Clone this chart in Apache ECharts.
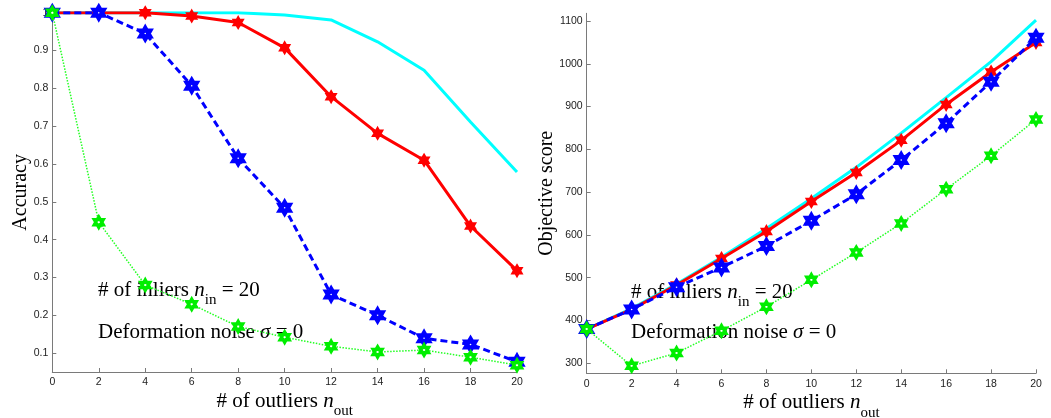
<!DOCTYPE html>
<html>
<head>
<meta charset="utf-8">
<script src="https://cdn.jsdelivr.net/npm/echarts@6/dist/echarts.min.js"></script>
<style>
  html, body { margin: 0; padding: 0; background: #fff; }
  #chart { width: 1051px; height: 418px; }
</style>
</head>
<body>
<div id="chart"></div>
<script>
// Number of outliers (x axis, shared by both panels)
const outliers = [0, 2, 4, 6, 8, 10, 12, 14, 16, 18, 20];

// Accuracy panel
const accCyan  = [1, 1, 1, 1, 1, 0.994, 0.981, 0.923, 0.848, 0.711, 0.579];
const accRed   = [1, 1, 1, 0.991, 0.974, 0.907, 0.778, 0.681, 0.610, 0.436, 0.318];
const accBlue  = [1, 1, 0.945, 0.807, 0.615, 0.484, 0.255, 0.200, 0.139, 0.123, 0.077];
const accGreen = [1, 0.446, 0.280, 0.229, 0.170, 0.142, 0.118, 0.103, 0.108, 0.089, 0.068];

// Objective score panel
const objCyan  = [380, 428, 485, 548, 615, 685, 758, 838, 921, 1005, 1102];
const objRed   = [380, 426, 483, 545, 608, 678, 746, 821, 905, 981, 1050];
const objBlue  = [380, 426, 478, 524, 574, 633, 695, 775, 861, 958, 1061];
const objGreen = [380, 294, 324, 376, 432, 495, 559, 627, 707, 785, 870];

// Tick labels
const accTicks = [0.1, 0.2, 0.3, 0.4, 0.5, 0.6, 0.7, 0.8, 0.9, 1];
const objTicks = [300, 400, 500, 600, 700, 800, 900, 1000, 1100];

// Six-pointed star marker
const HEXAGRAM = 'path://M100 0 L128.87 50 L186.6 50 L157.7 100 L186.6 150 L128.87 150 L100 200 L71.13 150 L13.4 150 L42.3 100 L13.4 50 L71.13 50 Z';

const AXIS_GRAY = '#7a7a7a';
const LABEL_COLOR = '#222';
const SERIF = '"Liberation Serif", "DejaVu Serif", serif';
const SANS = '"Liberation Sans", Arial, sans-serif';

const richText = {
  t: { fontFamily: SERIF, fontSize: 21, color: '#000' },
  i: { fontFamily: SERIF, fontSize: 21, fontStyle: 'italic', color: '#000' },
  s: { fontFamily: SERIF, fontSize: 15, color: '#000', padding: [21, 0, 0, 0] }
};

const pairs = (ys) => outliers.map((x, k) => [x, ys[k]]);

function xAxisFor(gridIndex) {
  return {
    type: 'value', gridIndex, min: 0, max: 20, interval: 2,
    name: '{t|# of outliers }{i|n}{s|out}',
    nameLocation: 'middle', nameGap: 11, nameMoveOverlap: false,
    nameTextStyle: { verticalAlign: 'top', rich: richText },
    axisLine: { show: true, onZero: false, lineStyle: { color: AXIS_GRAY, width: 1 } },
    axisTick: { show: true, inside: true, length: 4, lineStyle: { color: AXIS_GRAY } },
    axisLabel: { color: LABEL_COLOR, fontFamily: SANS, fontSize: 10.5, margin: 5 },
    splitLine: { show: false }
  };
}

function yAxisFor(gridIndex, min, max, ticks, name, nameGap, fmt) {
  return {
    type: 'value', gridIndex, min, max,
    name, nameLocation: 'middle', nameGap, nameMoveOverlap: false,
    nameTextStyle: { fontFamily: SERIF, fontSize: 20, color: '#000' },
    axisLine: { show: true, onZero: false, lineStyle: { color: AXIS_GRAY, width: 1 } },
    axisTick: { show: true, inside: true, length: 4, customValues: ticks, lineStyle: { color: AXIS_GRAY } },
    axisLabel: { color: LABEL_COLOR, fontFamily: SANS, fontSize: 10.5, margin: 4, customValues: ticks, formatter: fmt },
    splitLine: { show: false }
  };
}

function seriesSet(idx, cyan, red, blue, green) {
  return [
    {
      type: 'line', xAxisIndex: idx, yAxisIndex: idx, data: pairs(cyan),
      showSymbol: false, symbol: 'none', silent: true,
      lineStyle: { color: '#00ffff', width: 3 }, z: 2
    },
    {
      type: 'line', xAxisIndex: idx, yAxisIndex: idx, data: pairs(red),
      symbol: HEXAGRAM, symbolSize: 12, symbolKeepAspect: true,
      lineStyle: { color: '#ff0000', width: 3 },
      itemStyle: { color: '#ff0000', borderColor: '#ff0000', borderWidth: 1.5 }, z: 3
    },
    {
      type: 'line', xAxisIndex: idx, yAxisIndex: idx, data: pairs(blue),
      symbol: HEXAGRAM, symbolSize: 11, symbolKeepAspect: true,
      lineStyle: { color: '#0000ff', width: 3, type: [7, 4] },
      itemStyle: { color: '#ffffff', borderColor: '#0000ff', borderWidth: 4.5 }, z: 4
    },
    {
      type: 'line', xAxisIndex: idx, yAxisIndex: idx, data: pairs(green),
      symbol: HEXAGRAM, symbolSize: 10, symbolKeepAspect: true,
      lineStyle: { color: '#22ff22', width: 1.5, type: [1.5, 1.5] },
      itemStyle: { color: '#ffffff', borderColor: '#00ee00', borderWidth: 3.5 }, z: 5
    }
  ];
}

const chart = echarts.init(document.getElementById('chart'), null, { renderer: 'canvas' });

chart.setOption({
  animation: false,
  backgroundColor: '#ffffff',
  grid: [
    { left: 52.3, top: 12.7, width: 464.7, height: 359.3, containLabel: false, outerBoundsMode: 'none' },
    { left: 586.7, top: 13.3, width: 449.3, height: 360, containLabel: false, outerBoundsMode: 'none' }
  ],
  xAxis: [xAxisFor(0), xAxisFor(1)],
  yAxis: [
    yAxisFor(0, 0.05, 1, accTicks, 'Accuracy', 22, (v) => (v === 1 ? '1' : v.toFixed(1))),
    yAxisFor(1, 276.6, 1118, objTicks, 'Objective score', 30, (v) => String(Math.round(v)))
  ],
  series: [
    ...seriesSet(0, accCyan, accRed, accBlue, accGreen),
    ...seriesSet(1, objCyan, objRed, objBlue, objGreen)
  ],
  graphic: [
    { type: 'group', z: 1, children: [
      { type: 'text', x: 98, y: 290, z: 1, silent: true,
        style: { text: '{t|# of inliers }{i|n}{s|in}{t| = 20}', rich: richText, verticalAlign: 'middle', align: 'left' } },
      { type: 'text', x: 98, y: 332, z: 1, silent: true,
        style: { text: '{t|Deformation noise }{i|σ}{t| = 0}', rich: richText, verticalAlign: 'middle', align: 'left' } },
      { type: 'text', x: 631, y: 292, z: 1, silent: true,
        style: { text: '{t|# of inliers }{i|n}{s|in}{t| = 20}', rich: richText, verticalAlign: 'middle', align: 'left' } },
      { type: 'text', x: 631, y: 332, z: 1, silent: true,
        style: { text: '{t|Deformation noise }{i|σ}{t| = 0}', rich: richText, verticalAlign: 'middle', align: 'left' } }
    ] }
  ]
});
</script>
</body>
</html>
